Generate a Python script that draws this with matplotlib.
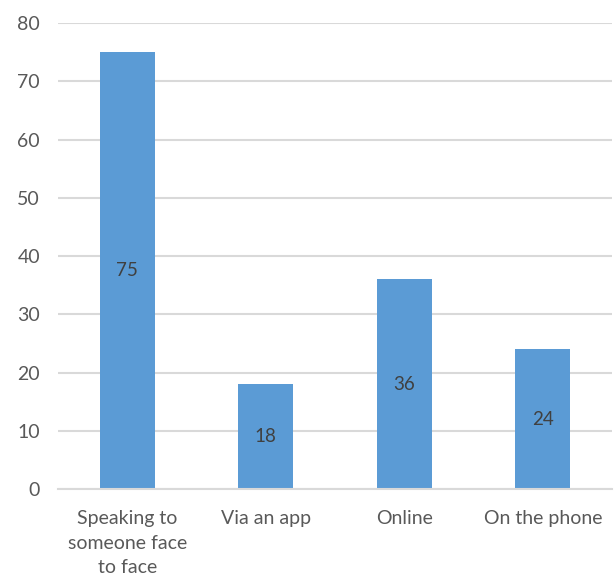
import matplotlib
matplotlib.use("Agg")
import matplotlib.pyplot as plt

categories = ["Speaking to\nsomeone face\nto face", "Via an app", "Online", "On the phone"]
values = [75, 18, 36, 24]
yticks = [0, 10, 20, 30, 40, 50, 60, 70, 80]

plt.rcParams['font.family'] = ['Lato', 'DejaVu Sans']

fig = plt.figure(figsize=(6.14, 5.77), dpi=100)
ax = fig.add_axes([58/614, (577-489)/577, (612-58)/614, (489-23)/577])

x = list(range(len(categories)))
bars = ax.bar(x, values, width=0.4, color="#5B9BD5", zorder=3)
for xi, v in zip(x, values):
    ax.text(xi, v/2, str(v), ha="center", va="center", fontsize=13.5, color="#404040", zorder=4)

ax.set_xlim(-0.5, len(categories)-0.5)
ax.set_ylim(0, 80)
ax.set_yticks(yticks)
ax.set_yticklabels([str(t) for t in yticks], fontsize=14, color="#595959")
ax.set_xticks(x)
ax.set_xticklabels(categories, fontsize=14, color="#595959", linespacing=1.55, va="top")
ax.tick_params(axis="both", length=0)
ax.tick_params(axis="y", pad=13)
ax.tick_params(axis="x", pad=15)
ax.grid(axis="y", color="#D9D9D9", linewidth=1.5, zorder=0)
for s in ["top", "right", "left"]:
    ax.spines[s].set_visible(False)
ax.spines["bottom"].set_color("#D9D9D9")
ax.spines["bottom"].set_linewidth(1.5)
ax.spines["bottom"].set_zorder(5)

fig.savefig("out.png", dpi=100)
